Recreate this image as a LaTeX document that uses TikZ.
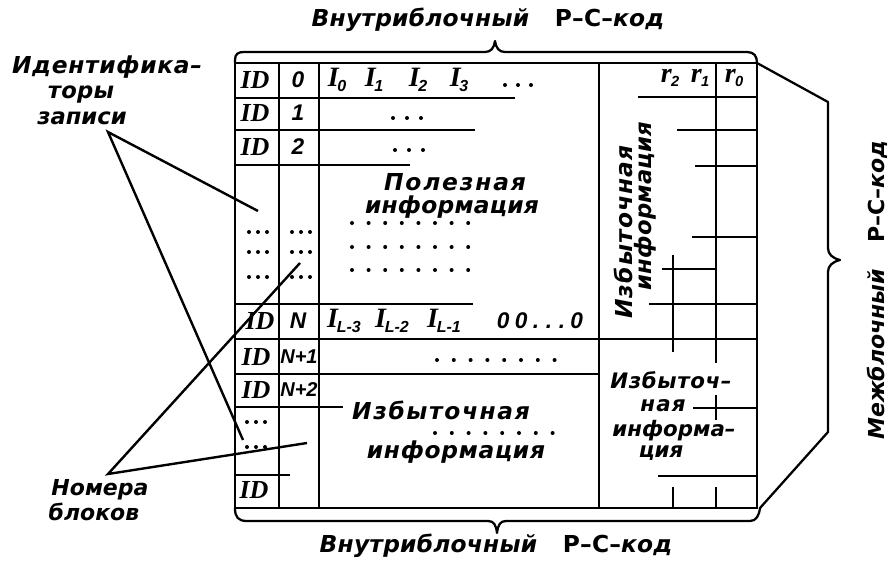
\documentclass[tikz,border=0pt]{standalone}
\usepackage{fontspec}
\newfontfamily\dr{DejaVu Sans}
\newfontfamily\lsn{Liberation Sans}
\newfontfamily\sr{Liberation Serif}
\newcommand\Isub[1]{{\sr\bfseries\itshape I}\kern-1pt\raisebox{-4pt}{\fontsize{12}{12}\selectfont\lsn\bfseries\itshape #1}}
\newcommand\rsub[1]{{\sr\bfseries\itshape r}\kern-0.5pt\raisebox{-3pt}{\fontsize{11}{11}\selectfont\lsn\bfseries\itshape #1}}
\begin{document}
\begin{tikzpicture}[x=0.75pt,y=-0.75pt,
  ln/.style={line width=2pt},
  br/.style={line width=1.7pt, line join=round, line cap=round},
  lead/.style={line width=1.8pt},
  dl/.style 2 args={font=\dr\bfseries\itshape\fontsize{#1}{#1}\selectfont\addfontfeature{LetterSpace=#2}, inner sep=0pt},
  idt/.style={font=\sr\bfseries\itshape\fontsize{19.5}{19.5}\selectfont, inner sep=0pt},
  num/.style={font=\lsn\bfseries\itshape\fontsize{#1}{#1}\selectfont, inner sep=0pt},
  num/.default=17,
  it/.style={font=\fontsize{21}{21}\selectfont, inner sep=0pt}]
\useasboundingbox (0,0) rectangle (890,564);

% ---- table grid ----
\draw[ln] (235,63) rectangle (757,508);
\draw[ln] (279,63) -- (279,508);
\draw[ln] (319,63) -- (319,508);
\draw[ln] (599,63) -- (599,508);
\draw[ln] (716,63) -- (716,363);
\draw[ln] (716,395) -- (716,420);
\draw[ln] (716,487) -- (716,508);
\draw[ln] (673,255) -- (673,352);
\draw[ln] (673,487) -- (673,508);
% left horizontals
\draw[ln] (235,98) -- (515,98);
\draw[ln] (235,130) -- (475,130);
\draw[ln] (235,165) -- (410,165);
\draw[ln] (235,304) -- (473,304);
\draw[ln] (235,339) -- (757,339);
\draw[ln] (235,374) -- (599,374);
\draw[ln] (235,407) -- (343,407);
\draw[ln] (235,475) -- (290,475);
% right horizontals
\draw[ln] (638,97) -- (757,97);
\draw[ln] (677,130) -- (757,130);
\draw[ln] (695,166) -- (757,166);
\draw[ln] (692,237) -- (757,237);
\draw[ln] (662,269) -- (716,269);
\draw[ln] (649,304) -- (757,304);
\draw[ln] (693,408) -- (757,408);
\draw[ln] (658,476) -- (757,476);

% ---- braces ----
\draw[br] (235,63) -- (235,60) .. controls (235,54) and (238,52) .. (244,52)
  -- (485,52) .. controls (491,52) and (494,48) .. (495,41)
  .. controls (496,48) and (499,52) .. (505,52) -- (747,52)
  .. controls (754,52) and (757,56) .. (757,63);
\draw[br] (235,508) .. controls (235,517) and (238,521) .. (247,521)
  -- (488,521) .. controls (494,521) and (496,525) .. (497,533)
  .. controls (498,525) and (500,521) .. (506,521) -- (750,521)
  .. controls (756,521) and (759,516) .. (760,508);
\draw[br] (757,63) -- (828,102) -- (828,248)
  .. controls (828,254) and (832,258) .. (840,260)
  .. controls (832,262) and (828,266) .. (828,272) -- (828,432) -- (760,508);

% ---- outer labels ----
\node[dl={17.5}{1}] (ttop) at (488,20) {Внутриблочный\hspace{1.1em}{\upshape Р–С–}код};
\node[dl={17.5}{1}] (tbot) at (496,546) {Внутриблочный\hspace{1.1em}{\upshape Р–С–}код};
\node[dl={16.5}{0}, rotate=90] (tright) at (877,290) {Межблочный\hspace{1.2em}{\upshape Р–С–}код};
\node[dl={17.5}{3}] (lid1) at (107,67) {Идентифика–};
\node[dl={17}{1}] (lid2) at (81,95) {торы};
\node[dl={17}{0}] (lid3) at (82,118) {записи};
\node[dl={16.5}{0}] (lnb1) at (100,490) {Номера};
\node[dl={16.5}{0}] (lnb2) at (94,512) {блоков};

% leaders
\coordinate (ta) at (108,132);
\coordinate (tb) at (108,474);
\coordinate (e1) at (258,211);
\coordinate (e2) at (243,440);
\coordinate (e3) at (300,263);
\coordinate (e4) at (307,443);
\draw[lead] (e1) -- (ta) -- (e2);
\draw[lead] (e3) -- (tb) -- (e4);

% ---- ID column ----
\node[idt] (id0) at (255,80) {ID};
\node[idt] (id1) at (255,113) {ID};
\node[idt] (id2) at (255,147) {ID};
\node[idt] (idn) at (260,321) {ID};
\node[idt] (idn1) at (256,357) {ID};
\node[idt] (idn2) at (256,390) {ID};
\node[idt] (idl) at (254,490) {ID};
% number column
\node[num] (n0) at (298,80) {0};
\node[num] (n1) at (298,113) {1};
\node[num] (n2) at (298,147) {2};
\node[num] (nn) at (298,321) {N};
\node[num=15] (nn1) at (299,357) {N+1};
\node[num=15] (nn2) at (299,390) {N+2};

% dots in ID / number columns
\foreach \y in {232,252,277}{
  \foreach \x in {249,258,267}{\fill (\x,\y) circle (1.5pt);}
  \foreach \x in {292,301,310}{\fill (\x,\y) circle (1.5pt);}
}
\foreach \x in {247,256,265}{\fill (\x,422) circle (1.5pt); \fill (\x,447) circle (1.5pt);}

% ---- useful information block ----
\node[it] (i0) at (337,80) {\Isub{0}};
\node[it] (i1) at (374,80) {\Isub{1}};
\node[it] (i2) at (418,80) {\Isub{2}};
\node[it] (i3) at (459,80) {\Isub{3}};
\foreach \x in {505,518,531}{\fill (\x,85) circle (1.5pt);}
\foreach \x in {393,407,421}{\fill (\x,118) circle (1.5pt);}
\foreach \x in {395,409,423}{\fill (\x,150) circle (1.5pt);}
\node[dl={17.5}{8}] (pol1) at (455,182) {Полезная};
\node[dl={17.5}{1}] (pol2) at (452,207) {информация};
\foreach \y in {223,247,270}{
  \foreach \k in {0,...,7}{\fill ({352+\k*16.6},\y) circle (1.5pt);}
}
\node[it] (il3) at (344,321) {\Isub{L-3}};
\node[it] (il2) at (392,321) {\Isub{L-2}};
\node[it] (il1) at (444,321) {\Isub{L-1}};
\node[num=17] (zz) at (540,321) {0\hspace{4pt}0\hspace{4pt}.\hspace{5pt}.\hspace{5pt}.\hspace{4pt}0};
\foreach \k in {0,...,7}{\fill ({437+\k*16.8},360) circle (1.5pt);}
\node[dl={17.5}{7}] (izb1) at (441,410) {Избыточная};
\foreach \k in {0,...,7}{\fill ({435+\k*16.8},433) circle (1.5pt);}
\node[dl={17.5}{3}] (izb2) at (456,452) {информация};

% ---- redundant (right) block ----
\node[it] (r2) at (670,78) {\rsub{2}};
\node[it] (r1) at (700,78) {\rsub{1}};
\node[it] (r0) at (734,78) {\rsub{0}};
\node[dl={17.5}{5}, rotate=90] (rz1) at (623,232) {Избыточная};
\node[dl={17}{1}, rotate=90] (rz2) at (645,206) {информация};
\node[dl={16}{3}] (q1) at (671,380) {Избыточ–};
\node[dl={16}{6}] (q2) at (663,406) {ная};
\node[dl={16}{0}] (q3) at (674,431) {информа–};
\node[dl={16}{0}] (q4) at (661,453) {ция};
\end{tikzpicture}
\end{document}
